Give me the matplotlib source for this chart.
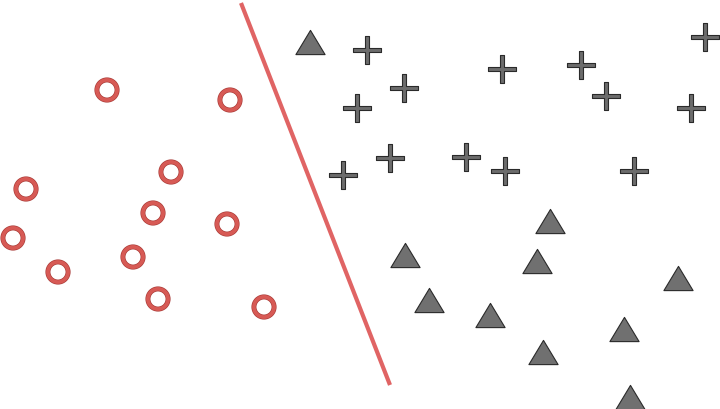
import matplotlib
matplotlib.use("Agg")
import matplotlib.pyplot as plt
import matplotlib.patheffects as pe
from matplotlib.path import Path
import numpy as np

# Data (pixel-space coordinates)
circle_x = [107, 230, 26, 171, 153, 227, 13, 58, 133, 158, 264]
circle_y = [90, 100, 189, 172, 213, 224, 238, 272, 257, 299, 307]

triangle_x = [310, 405, 429, 490, 550, 537, 543, 624, 678, 630]
triangle_y = [42, 255, 300, 315, 221, 261, 352, 329, 278, 397]

plus_x = [367, 404, 357, 343, 390, 502, 466, 505, 581, 606, 705, 691, 634]
plus_y = [50, 88, 108, 175, 158, 69, 157, 171, 65, 96, 37, 108, 171]

line_x = [241, 390]
line_y = [3, 385]

fig = plt.figure(figsize=(7.2, 4.09), dpi=100)
ax = fig.add_axes([0, 0, 1, 1])
ax.set_xlim(0, 720)
ax.set_ylim(409, 0)
ax.axis("off")

# separating line
ax.plot(line_x, line_y, color="#e06464", lw=3.0, solid_capstyle="butt", zorder=1)

# circles (rings)
ax.plot(circle_x, circle_y, ls="none", marker="o", ms=14.5, mfc="none",
        mec="#d75a55", mew=2.7, zorder=3,
        path_effects=[pe.Stroke(linewidth=3.6, foreground="#a83a36"), pe.Normal()])

# triangles
tri = Path([(-1, -0.83), (1, -0.83), (0, 0.83), (-1, -0.83)],
           [Path.MOVETO, Path.LINETO, Path.LINETO, Path.CLOSEPOLY])
ax.plot(triangle_x, triangle_y, ls="none", marker=tri, ms=21,
        mfc="#707070", mec="#2a2a2a", mew=0.8, zorder=3)

# plus markers
t = 0.17
pv = [(-t, 1), (t, 1), (t, t), (1, t), (1, -t), (t, -t), (t, -1), (-t, -1),
      (-t, -t), (-1, -t), (-1, t), (-t, t), (-t, 1)]
plus = Path(pv, [Path.MOVETO] + [Path.LINETO] * 11 + [Path.CLOSEPOLY])
ax.plot(plus_x, plus_y, ls="none", marker=plus, ms=20,
        mfc="#6c6c6c", mec="#2a2a2a", mew=0.8, zorder=3)

fig.savefig("out.png", dpi=100, facecolor="white")
